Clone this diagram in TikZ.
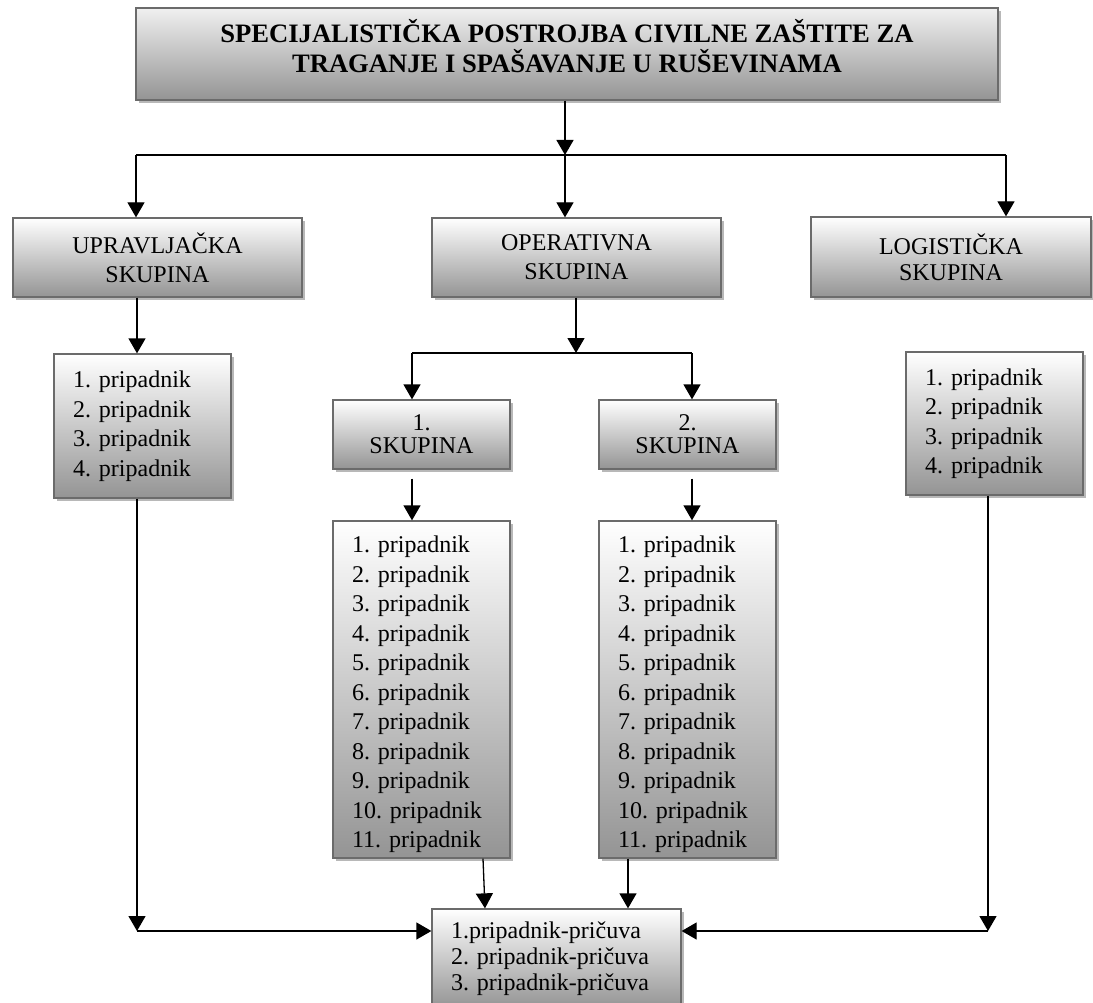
\documentclass[tikz,border=0pt]{standalone}
\usepackage{fontspec}
\setmainfont{Liberation Serif}
\usetikzlibrary{arrows.meta,shadows}
\frenchspacing
\newcommand{\toppush}{\rule{0pt}{27pt}}
\tikzset{
  box/.style={draw=black!58, line width=1.3pt, top color=white, bottom color=black!42,
    drop shadow={shadow xshift=3pt, shadow yshift=-3pt, fill=black!28, opacity=1},
    inner sep=0pt, align=center},
  hdr/.style={box, font=\fontsize{24}{29}\selectfont\frenchspacing},
  lst/.style={box, inner xsep=19pt, text width=139pt, align=left, font=\fontsize{24}{29.5}\selectfont\frenchspacing},
  titletext/.style={align=center, inner sep=0pt, font=\fontsize{26.6}{30}\selectfont\bfseries\frenchspacing},
  conn/.style={line width=1.3pt, black},
  arr/.style={conn, -{Triangle[width=17pt,length=15pt]}}
}
\begin{document}
\begin{tikzpicture}[x=1pt,y=-1pt]
\useasboundingbox (0,0) rectangle (1093,1003);
\clip (0,0) rectangle (1093,1003);
\fill[white] (0,0) rectangle (1093,1003);

% boxes
\node[box, top color=black!6, minimum width=862pt, minimum height=92pt] (top) at (567,54) {};
\node[titletext] (ttl) at (567,46) {SPECIJALISTIČKA POSTROJBA CIVILNE ZAŠTITE ZA\\TRAGANJE I SPAŠAVANJE U RUŠEVINAMA};

\node[hdr, minimum width=289pt, minimum height=79pt] (upr) at (157.5,257.5) {UPRAVLJAČKA\\SKUPINA};
\node[hdr, minimum width=289pt, minimum height=79pt] (ope) at (576.5,257.5) {OPERATIVNA\\SKUPINA};
\node[hdr, minimum width=280pt, minimum height=80pt, font=\fontsize{24}{26}\selectfont] (log) at (951,257) {LOGISTIČKA\\SKUPINA};

\node[lst, minimum height=144pt] (lstu) at (142.5,426) {1. pripadnik\\2. pripadnik\\3. pripadnik\\4. pripadnik};
\node[lst, minimum height=143pt] (lstl) at (994.5,423.5) {1. pripadnik\\2. pripadnik\\3. pripadnik\\4. pripadnik};

\node[hdr, minimum width=177pt, minimum height=69pt, font=\fontsize{24}{23}\selectfont] (sk1) at (421.5,434.5) {1.\\SKUPINA};
\node[hdr, minimum width=177pt, minimum height=69pt, font=\fontsize{24}{23}\selectfont] (sk2) at (687.5,434.5) {2.\\SKUPINA};

\node[lst, minimum height=337pt] (lst1) at (421.5,689.5) {\toppush 1. pripadnik\\2. pripadnik\\3. pripadnik\\4. pripadnik\\5. pripadnik\\6. pripadnik\\7. pripadnik\\8. pripadnik\\9. pripadnik\\10. pripadnik\\11. pripadnik};
\node[lst, minimum height=337pt] (lst2) at (687.5,689.5) {\toppush 1. pripadnik\\2. pripadnik\\3. pripadnik\\4. pripadnik\\5. pripadnik\\6. pripadnik\\7. pripadnik\\8. pripadnik\\9. pripadnik\\10. pripadnik\\11. pripadnik};

\node[lst, text width=211pt, minimum height=99pt, font=\fontsize{24}{26}\selectfont] (res) at (556.5,958.5) {1.pripadnik-pričuva\\2. pripadnik-pričuva\\3. pripadnik-pričuva};

% junctions
\coordinate (j0) at (565,155);
\coordinate (jL) at (136,155);
\coordinate (jR) at (1006,155);
\coordinate (k0) at (576,353);
\coordinate (kL) at (412,353);
\coordinate (kR) at (692,353);
\coordinate (bL) at (137,931);
\coordinate (bR) at (988,931);
\coordinate (xa) at (483,0);
\coordinate (xb) at (485,0);
\coordinate (xc) at (628,0);

% connectors
\draw[arr] (top.south -| j0) -- (j0);
\draw[conn] (jL) -- (jR);
\draw[arr] (jL) -- (upr.north -| jL);
\draw[arr] (j0) -- (ope.north -| j0);
\draw[arr] (jR) -- (log.north -| jR);
\draw[arr] (upr.south -| bL) -- (lstu.north -| bL);
\draw[arr] (ope.south -| k0) -- (k0);
\draw[conn] (kL) -- (kR);
\draw[arr] (kL) -- (sk1.north -| kL);
\draw[arr] (kR) -- (sk2.north -| kR);
\draw[arr, shorten <=9pt] (sk1.south -| kL) -- (lst1.north -| kL);
\draw[arr, shorten <=9pt] (sk2.south -| kR) -- (lst2.north -| kR);
\draw[arr] (lstu.south -| bL) -- (bL);
\draw[arr] (bL) -- (res.west |- bL);
\draw[arr] (lstl.south -| bR) -- (bR);
\draw[arr] (bR) -- (res.east |- bR);
\draw[arr] (lst1.south -| xa) -- (res.north -| xb);
\draw[arr] (lst2.south -| xc) -- (res.north -| xc);
\end{tikzpicture}
\end{document}
